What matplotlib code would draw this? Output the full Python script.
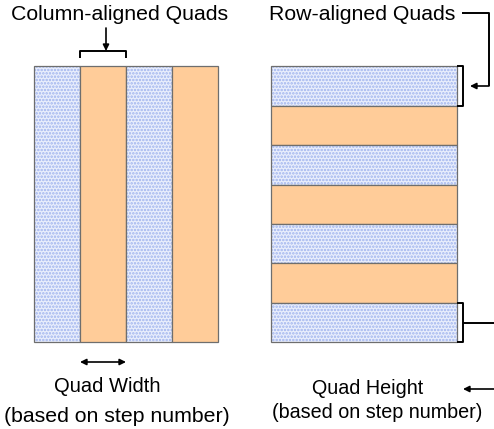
import matplotlib
matplotlib.use("Agg")
import matplotlib.pyplot as plt
from matplotlib.patches import Rectangle

plt.rcParams['font.family'] = ['Liberation Sans', 'DejaVu Sans']
plt.rcParams['hatch.linewidth'] = 1.2

# diagram geometry (pixel space of a 494x429 canvas)
col_edges = [34, 80, 126, 172, 218]
col_kinds = ['dot', 'solid', 'dot', 'solid']
col_top, col_bottom = 66, 342

row_edges = [66, 105.5, 145, 184.5, 224, 263, 303, 342]
row_kinds = ['dot', 'solid', 'dot', 'solid', 'dot', 'solid', 'dot']
row_left, row_right = 271, 457

titles = ["Column-aligned Quads", "Row-aligned Quads"]
captions = [("Quad Width", "(based on step number)"),
            ("Quad Height", "(based on step number)")]

orange = '#ffcc99'
dot_bg = '#e9eefc'
dot_fg = '#9fb3ee'
edge = '#6e6e6e'
fs = 15.3

fig = plt.figure(figsize=(4.94, 4.29), dpi=100)
ax = fig.add_axes([0, 0, 1, 1])
ax.set_xlim(0, 494)
ax.set_ylim(429, 0)
ax.axis('off')


def quad(x0, y0, w, h, kind):
    if kind == 'solid':
        ax.add_patch(Rectangle((x0, y0), w, h, facecolor=orange,
                               edgecolor=edge, linewidth=0.9))
    else:
        ax.add_patch(Rectangle((x0, y0), w, h, facecolor=dot_bg,
                               edgecolor=dot_fg, hatch='.....', linewidth=0))
        ax.add_patch(Rectangle((x0, y0), w, h, facecolor='none',
                               edgecolor=edge, linewidth=0.9))


# column-aligned quads
for i, k in enumerate(col_kinds):
    quad(col_edges[i], col_top, col_edges[i + 1] - col_edges[i],
         col_bottom - col_top, k)

# row-aligned quads
for i, k in enumerate(row_kinds):
    quad(row_left, row_edges[i], row_right - row_left,
         row_edges[i + 1] - row_edges[i], k)

lk = dict(color='black', linewidth=1.4, solid_capstyle='butt')
arr = dict(arrowstyle='-|>', color='black', lw=1.2, mutation_scale=9,
           shrinkA=0, shrinkB=0)

# titles
ax.text(120, 14, titles[0], ha='center', va='center', fontsize=fs)
ax.text(362, 14, titles[1], ha='center', va='center', fontsize=fs)

# top bracket over 2nd column + arrow
bx0, bx1 = col_edges[1], col_edges[2]
ax.plot([bx0, bx0, bx1, bx1], [58, 51, 51, 58], **lk)
ax.annotate('', xy=(106, 51), xytext=(106, 28), arrowprops=arr)

# width arrow under columns
ax.annotate('', xy=(bx1, 362), xytext=(bx0, 362),
            arrowprops=dict(arrowstyle='<|-|>', color='black', lw=1.2,
                            mutation_scale=9, shrinkA=0, shrinkB=0))
ax.text(107, 387, captions[0][0], ha='center', va='center', fontsize=14.5)
ax.text(117, 416, captions[0][1], ha='center', va='center', fontsize=fs)

# right bracket on top row + connector from title
ax.plot([457, 463, 463, 457], [row_edges[0], row_edges[0],
                               row_edges[1], row_edges[1]], **lk)
ax.plot([462, 489, 489], [13, 13, 86], **lk)
ax.annotate('', xy=(470, 86), xytext=(489, 86), arrowprops=arr)

# right bracket on bottom row + connector
ax.plot([457, 463, 463, 457], [row_edges[-2], row_edges[-2],
                               row_edges[-1], row_edges[-1]], **lk)
ax.plot([463, 494], [323, 323], **lk)
ax.annotate('', xy=(463, 389), xytext=(494, 389), arrowprops=arr)
ax.text(368, 389, captions[1][0], ha='center', va='center', fontsize=14.2)
ax.text(377, 413, captions[1][1], ha='center', va='center', fontsize=14.2)

fig.savefig('out.png', dpi=100)
